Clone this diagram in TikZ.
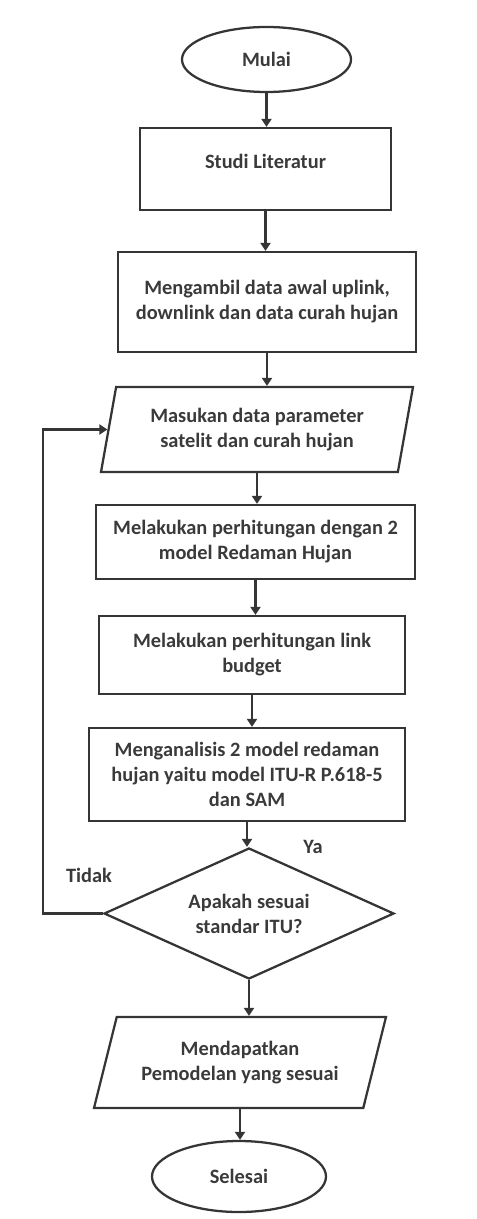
\documentclass[tikz,border=0pt]{standalone}
\usepackage{fontspec}
\setmainfont{Carlito}
\usetikzlibrary{shapes.geometric,arrows.meta}
\definecolor{garis}{HTML}{353535}
\definecolor{tulisan}{HTML}{3A3A3A}
\tikzset{
	kotak/.style={rectangle, draw=garis, line width=1.7pt, align=center, inner sep=2pt},
	terminal/.style={ellipse, draw=garis, line width=1.7pt, inner sep=0pt},
	masukan/.style={trapezium, trapezium stretches body, draw=garis, line width=1.7pt, align=center, inner sep=0pt},
	keputusan/.style={diamond, aspect=2.2, draw=garis, line width=1.7pt, align=center, inner sep=0pt},
	panah/.style={draw=garis, line width=1.6pt, -{Triangle[length=6pt,width=7.5pt]}}
}

\begin{document}
\begin{tikzpicture}[x=0.75pt, y=-0.75pt, font=\fontsize{15.3pt}{18.75pt}\selectfont\bfseries, text=tulisan]
		%%%%% START %%%%%
		\useasboundingbox (0, 0) rectangle (477, 1219);
		
		\node[terminal, minimum width=126.75pt, minimum height=48.75pt] (mulai) at (266.5, 59.5) {Mulai};
		\node[kotak, minimum width=188.25pt, minimum height=61.5pt] (studi) at (265.5, 169) {\raisebox{6pt}[\height][\depth]{Studi Literatur}};
		\node[kotak, minimum width=223.5pt, minimum height=75pt] (ambil) at (267, 302) {Mengambil data awal uplink,\\downlink dan data curah hujan};
		
		\node[masukan, trapezium left angle=70.5, trapezium right angle=109.5, minimum width=234pt, minimum height=63.75pt] (data) at (257, 429.5) {Masukan data parameter\\satelit dan curah hujan};
		\node[kotak, minimum width=239.25pt, minimum height=55.5pt] (redaman) at (255.5, 542) {Melakukan perhitungan dengan 2\\model Redaman Hujan};
		\node[kotak, minimum width=229.5pt, minimum height=58.5pt] (budget) at (252, 655) {Melakukan perhitungan link\\budget};
		\node[kotak, minimum width=237pt, minimum height=69.75pt] (analisis) at (247, 774.5) {Menganalisis 2 model redaman\\hujan yaitu model ITU-R P.618-5\\dan SAM};
		
		\node[keputusan, minimum width=217.5pt, minimum height=98.25pt] (cek) at (249, 913.5) {Apakah sesuai\\standar ITU?};
		\node (ya) at (313, 847) {Ya};
		\node (tidak) at (89, 875) {Tidak};
		
		\node[masukan, trapezium left angle=62, trapezium right angle=118, minimum width=219pt, minimum height=68.25pt] (hasil) at (240, 1062.5) {Mendapatkan\\Pemodelan yang sesuai};
		\node[terminal, minimum width=130.5pt, minimum height=53.25pt] (selesai) at (239, 1176.5) {Selesai};
		
		\draw[panah] (mulai.south) -- (mulai.south |- studi.north);
		\draw[panah] (studi.south) -- (studi.south |- ambil.north);
		\draw[panah] (ambil.south) -- (ambil.south |- data.north);
		\draw[panah] (data.south) -- (data.south |- redaman.north);
		\draw[panah] (redaman.south) -- (redaman.south |- budget.north);
		\draw[panah] (budget.south) -- (budget.south |- analisis.north);
		\draw[panah] (analisis.south) -- (analisis.south |- cek.north);
		\draw[panah] (cek.south) -- (cek.south |- hasil.north);
		\draw[panah] (hasil.south) -- (hasil.south |- selesai.north);
		
		\coordinate (balik) at (43, 913.5);
		\draw[panah] (cek.west) -- (balik) |- (data.west);
		
		%%%%% END %%%%%
	\end{tikzpicture}
\end{document}
